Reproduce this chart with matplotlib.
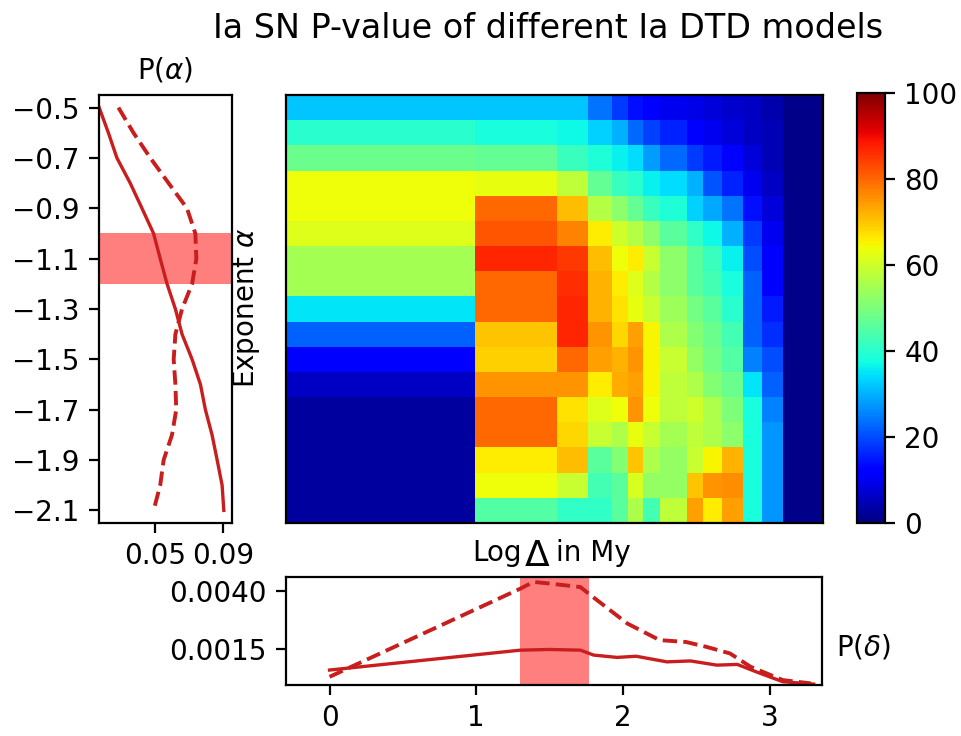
import numpy as np
import matplotlib
matplotlib.use("Agg")
import matplotlib.pyplot as plt

# ---------------- data ----------------
alpha = [-0.5, -0.6, -0.7, -0.8, -0.9, -1.0, -1.1, -1.2, -1.3, -1.4,
         -1.5, -1.6, -1.7, -1.8, -1.9, -2.0, -2.1]

# heatmap column edges in log(Delta / My)
logdelta_edges = [-0.30, 0.986, 1.544, 1.755, 1.918, 2.027, 2.129, 2.245,
                  2.429, 2.537, 2.667, 2.810, 2.939, 3.082, 3.355]

pvalue = [
    [32, 32, 32, 24, 18, 14, 11, 10, 9, 8, 7, 6, 4, 1],
    [40, 38, 37, 33, 30, 23, 19, 16, 12, 10, 8, 6, 5, 1],
    [48, 47, 42, 39, 36, 34, 28, 23, 18, 15, 11, 8, 5, 1],
    [64, 63, 58, 47, 42, 40, 36, 34, 30, 21, 16, 10, 6, 1],
    [64, 80, 71, 57, 52, 47, 42, 39, 33, 29, 24, 14, 8, 1],
    [62, 82, 77, 66, 60, 57, 52, 46, 41, 37, 30, 18, 10, 1],
    [55, 87, 85, 71, 64, 66, 59, 52, 46, 42, 36, 20, 12, 1],
    [55, 80, 86, 72, 66, 62, 57, 52, 46, 43, 38, 22, 12, 1],
    [35, 80, 87, 72, 67, 63, 59, 54, 49, 46, 40, 22, 15, 1],
    [22, 70, 87, 75, 68, 74, 65, 56, 51, 48, 43, 22, 17, 1],
    [12, 69, 80, 74, 72, 75, 65, 59, 53, 49, 45, 25, 20, 1],
    [6, 75, 75, 66, 73, 74, 65, 58, 56, 51, 48, 35, 22, 1],
    [3, 80, 67, 62, 64, 75, 64, 58, 60, 56, 50, 38, 25, 1],
    [3, 80, 68, 59, 56, 63, 59, 55, 58, 56, 52, 38, 27, 1],
    [3, 66, 71, 46, 51, 70, 56, 53, 59, 65, 72, 38, 27, 1],
    [3, 64, 59, 43, 46, 61, 53, 53, 70, 75, 76, 38, 27, 1],
    [3, 45, 41, 41, 46, 56, 43, 58, 74, 66, 74, 38, 27, 1],
]

p_alpha_solid = [0.0171, 0.0225, 0.0275, 0.0353, 0.0422, 0.0490, 0.0529,
                 0.0569, 0.0618, 0.0657, 0.0716, 0.0765, 0.0794, 0.0833,
                 0.0863, 0.0892, 0.0902]
p_alpha_dashed = [0.0284, 0.0372, 0.0471, 0.0578, 0.0686, 0.0735, 0.0741,
                  0.0716, 0.0657, 0.0618, 0.0608, 0.0618, 0.0623, 0.0598,
                  0.0549, 0.0529, 0.0490]

logd_dashed = [0.0, 1.30, 1.39, 1.50, 1.71, 1.78, 2.03, 2.25, 2.43, 2.57,
               2.73, 2.87, 3.09, 3.28]
p_delta_dashed = [0.00033, 0.00410, 0.00439, 0.00432, 0.00417, 0.00382,
                  0.00261, 0.00190, 0.00182, 0.00161, 0.00133, 0.00076,
                  0.00019, 0.00005]
logd_solid = [0.0, 1.30, 1.50, 1.71, 1.80, 1.96, 2.09, 2.30, 2.46, 2.64,
              2.78, 2.91, 3.09, 3.30]
p_delta_solid = [0.00062, 0.00147, 0.00150, 0.00147, 0.00126, 0.00116,
                 0.00121, 0.00097, 0.00101, 0.00083, 0.00086, 0.00054,
                 0.00012, 0.00002]

alpha_band = (-1.2, -1.0)
logd_band = (1.30, 1.77)

alpha_ticks = [-0.5, -0.7, -0.9, -1.1, -1.3, -1.5, -1.7, -1.9, -2.1]
palpha_ticks = [0.05, 0.09]
pdelta_ticks = [0.0015, 0.0040]
logd_ticks = [0, 1, 2, 3]
cbar_ticks = [0, 20, 40, 60, 80, 100]

# ---------------- figure ----------------
plt.rcParams['font.family'] = ['DejaVu Sans']
plt.rcParams['font.size'] = 10
W, H = 961, 736
fig = plt.figure(figsize=(W / 200, H / 200), dpi=200)


def box(x0, y0, x1, y1):
    return [x0 / W, 1 - y1 / H, (x1 - x0) / W, (y1 - y0) / H]


line_color = '#c81e1e'
alpha_arr = np.array(alpha)
y_edges = np.append(alpha_arr + 0.05, alpha_arr[-1] - 0.05)

# heatmap
ax_h = fig.add_axes(box(286, 95, 823, 523))
mesh = ax_h.pcolormesh(logdelta_edges, y_edges, np.array(pvalue),
                       cmap='jet', vmin=0, vmax=100)
ax_h.set_xlim(logdelta_edges[0], logdelta_edges[-1])
ax_h.set_ylim(y_edges[-1], y_edges[0])
ax_h.set_xticks([])
ax_h.set_yticks([])

# colorbar
ax_c = fig.add_axes(box(857, 93, 885, 523))
cb = fig.colorbar(mesh, cax=ax_c, ticks=cbar_ticks)

# left panel P(alpha)
ax_l = fig.add_axes(box(99, 95, 232, 523))
ax_l.axhspan(alpha_band[0], alpha_band[1], color='red', alpha=0.5, lw=0)
ax_l.plot(p_alpha_solid, alpha, color=line_color, lw=1.2)
ax_l.plot(p_alpha_dashed, alpha, color=line_color, lw=1.4, ls='--')
ax_l.set_ylim(y_edges[-1], y_edges[0])
ax_l.set_xlim(0.017, 0.095)
ax_l.set_yticks(alpha_ticks)
ax_l.set_yticklabels([f"{v:.1f}".replace('-', '\u2212') for v in alpha_ticks])
ax_l.set_xticks(palpha_ticks)
ax_l.set_xticklabels(['0.05', '0.09'])
ax_l.set_title(r'P($\alpha$)', fontsize=10)

# bottom panel P(delta)
ax_b = fig.add_axes(box(286, 577, 822, 685))
ax_b.axvspan(logd_band[0], logd_band[1], color='red', alpha=0.5, lw=0)
ax_b.plot(logd_solid, p_delta_solid, color=line_color, lw=1.2)
ax_b.plot(logd_dashed, p_delta_dashed, color=line_color, lw=1.4, ls='--')
ax_b.set_xlim(-0.297, 3.357)
ax_b.set_ylim(-0.00002, 0.0046)
ax_b.set_xticks(logd_ticks)
ax_b.set_yticks(pdelta_ticks)
ax_b.set_yticklabels([f"{v:.4f}" for v in pdelta_ticks])

# texts
fig.text(548 / W, 1 - 28 / H, 'Ia SN P-value of different Ia DTD models',
         ha='center', va='center', fontsize=12)
fig.text(246 / W, 1 - 308 / H, r'Exponent $\alpha$', rotation=90,
         ha='center', va='center', fontsize=10)
fig.text(522 / W, 1 - 561 / H, 'Log', ha='right', va='baseline', fontsize=10)
fig.text(537 / W, 1 - 566 / H, '\u0394', ha='center', va='baseline',
         fontsize=13,
         bbox=dict(facecolor='white', edgecolor='none', pad=0.5))
fig.text(556 / W, 1 - 561 / H, 'in My', ha='left', va='baseline', fontsize=10)
fig.text(836 / W, 1 - 647 / H, r'P($\delta$)', ha='left', va='center',
         fontsize=10)

fig.savefig('out.png', dpi=200)
